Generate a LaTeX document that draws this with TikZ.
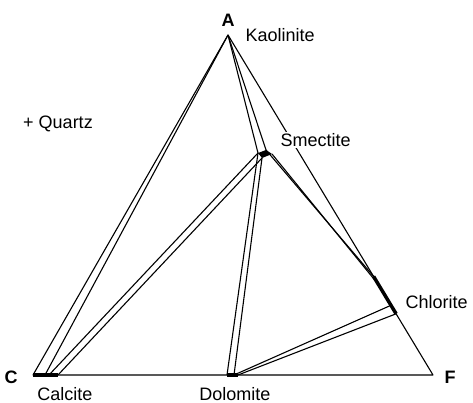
\documentclass[tikz,border=0pt]{standalone}
\usepackage{fontspec}
\setmainfont{Liberation Sans}
\usetikzlibrary{calc}

\begin{document}
\begin{tikzpicture}[x=1pt, y=-1pt, line width=1.1pt, line join=round,
  font=\fontsize{18}{20}\selectfont]
  \useasboundingbox (0,0) rectangle (473,403);
  % corners of the triangle
  \coordinate (A) at (228,35);
  \coordinate (C) at (33,375);
  \coordinate (F) at (433,375);
  % calcite, dolomite and smectite ranges
  \coordinate (Cc) at (45,375);
  \coordinate (Cc2) at (49,375);
  \coordinate (Cc3) at (58,375);
  \coordinate (D1) at (227,375);
  \coordinate (D2) at (234,375);
  \coordinate (D3) at (238,375);
  \coordinate (S1) at (258,153);
  \coordinate (S2) at (266,150);
  \coordinate (S3) at (272,154);
  \coordinate (S4) at (262,158);
  % chlorite range on A--F
  \coordinate (Ch1) at ($(A)!0.71!(F)$);
  \coordinate (Ch2) at ($(A)!0.735!(F)$);
  \coordinate (Ch3) at ($(A)!0.795!(F)$);
  \coordinate (Ch4) at ($(A)!0.82!(F)$);
  \draw (A) -- (C) -- (F) -- cycle;
  \draw (A) -- (Cc);
  \draw (A) -- (S1);
  \draw (A) -- (S2);
  \draw (S1) -- (Cc2);
  \draw (S4) -- (Cc3);
  \draw (S1) -- (D1);
  \draw (S4) -- (D2);
  \draw (S2) -- (Ch1);
  \draw (S3) -- (Ch2);
  \draw (D2) -- (Ch3);
  \draw (D3) -- (Ch4);
  % thick parts
  \fill (S1) -- (S2) -- (S3) -- (S4) -- cycle;
  \draw[line width=4pt] (C) -- (Cc3);
  \draw[line width=4pt] (D1) -- (D3);
  \draw[line width=3.5pt] (Ch1) -- (Ch4);
  % labels
  \node[font=\fontsize{18}{20}\bfseries] (lA) at (228,20) {A};
  \node[font=\fontsize{18}{20}\bfseries] (lC) at (11,377) {C};
  \node[font=\fontsize{18}{20}\bfseries] (lF) at (450,377) {F};
  \node[anchor=west, inner sep=1pt] (kao) at (244,35) {Kaolinite};
  \node[anchor=west, inner sep=1pt, fill=white] (sme) at (279,140) {Smectite};
  \node[anchor=west, inner sep=1pt] (chl) at (404,302) {Chlorite};
  \node[inner sep=1pt] (cal) at (65,394) {Calcite};
  \node[inner sep=1pt] (dol) at (235,394) {Dolomite};
  \node (qtz) at (58,124) {+ Quartz};
\end{tikzpicture}
\end{document}
